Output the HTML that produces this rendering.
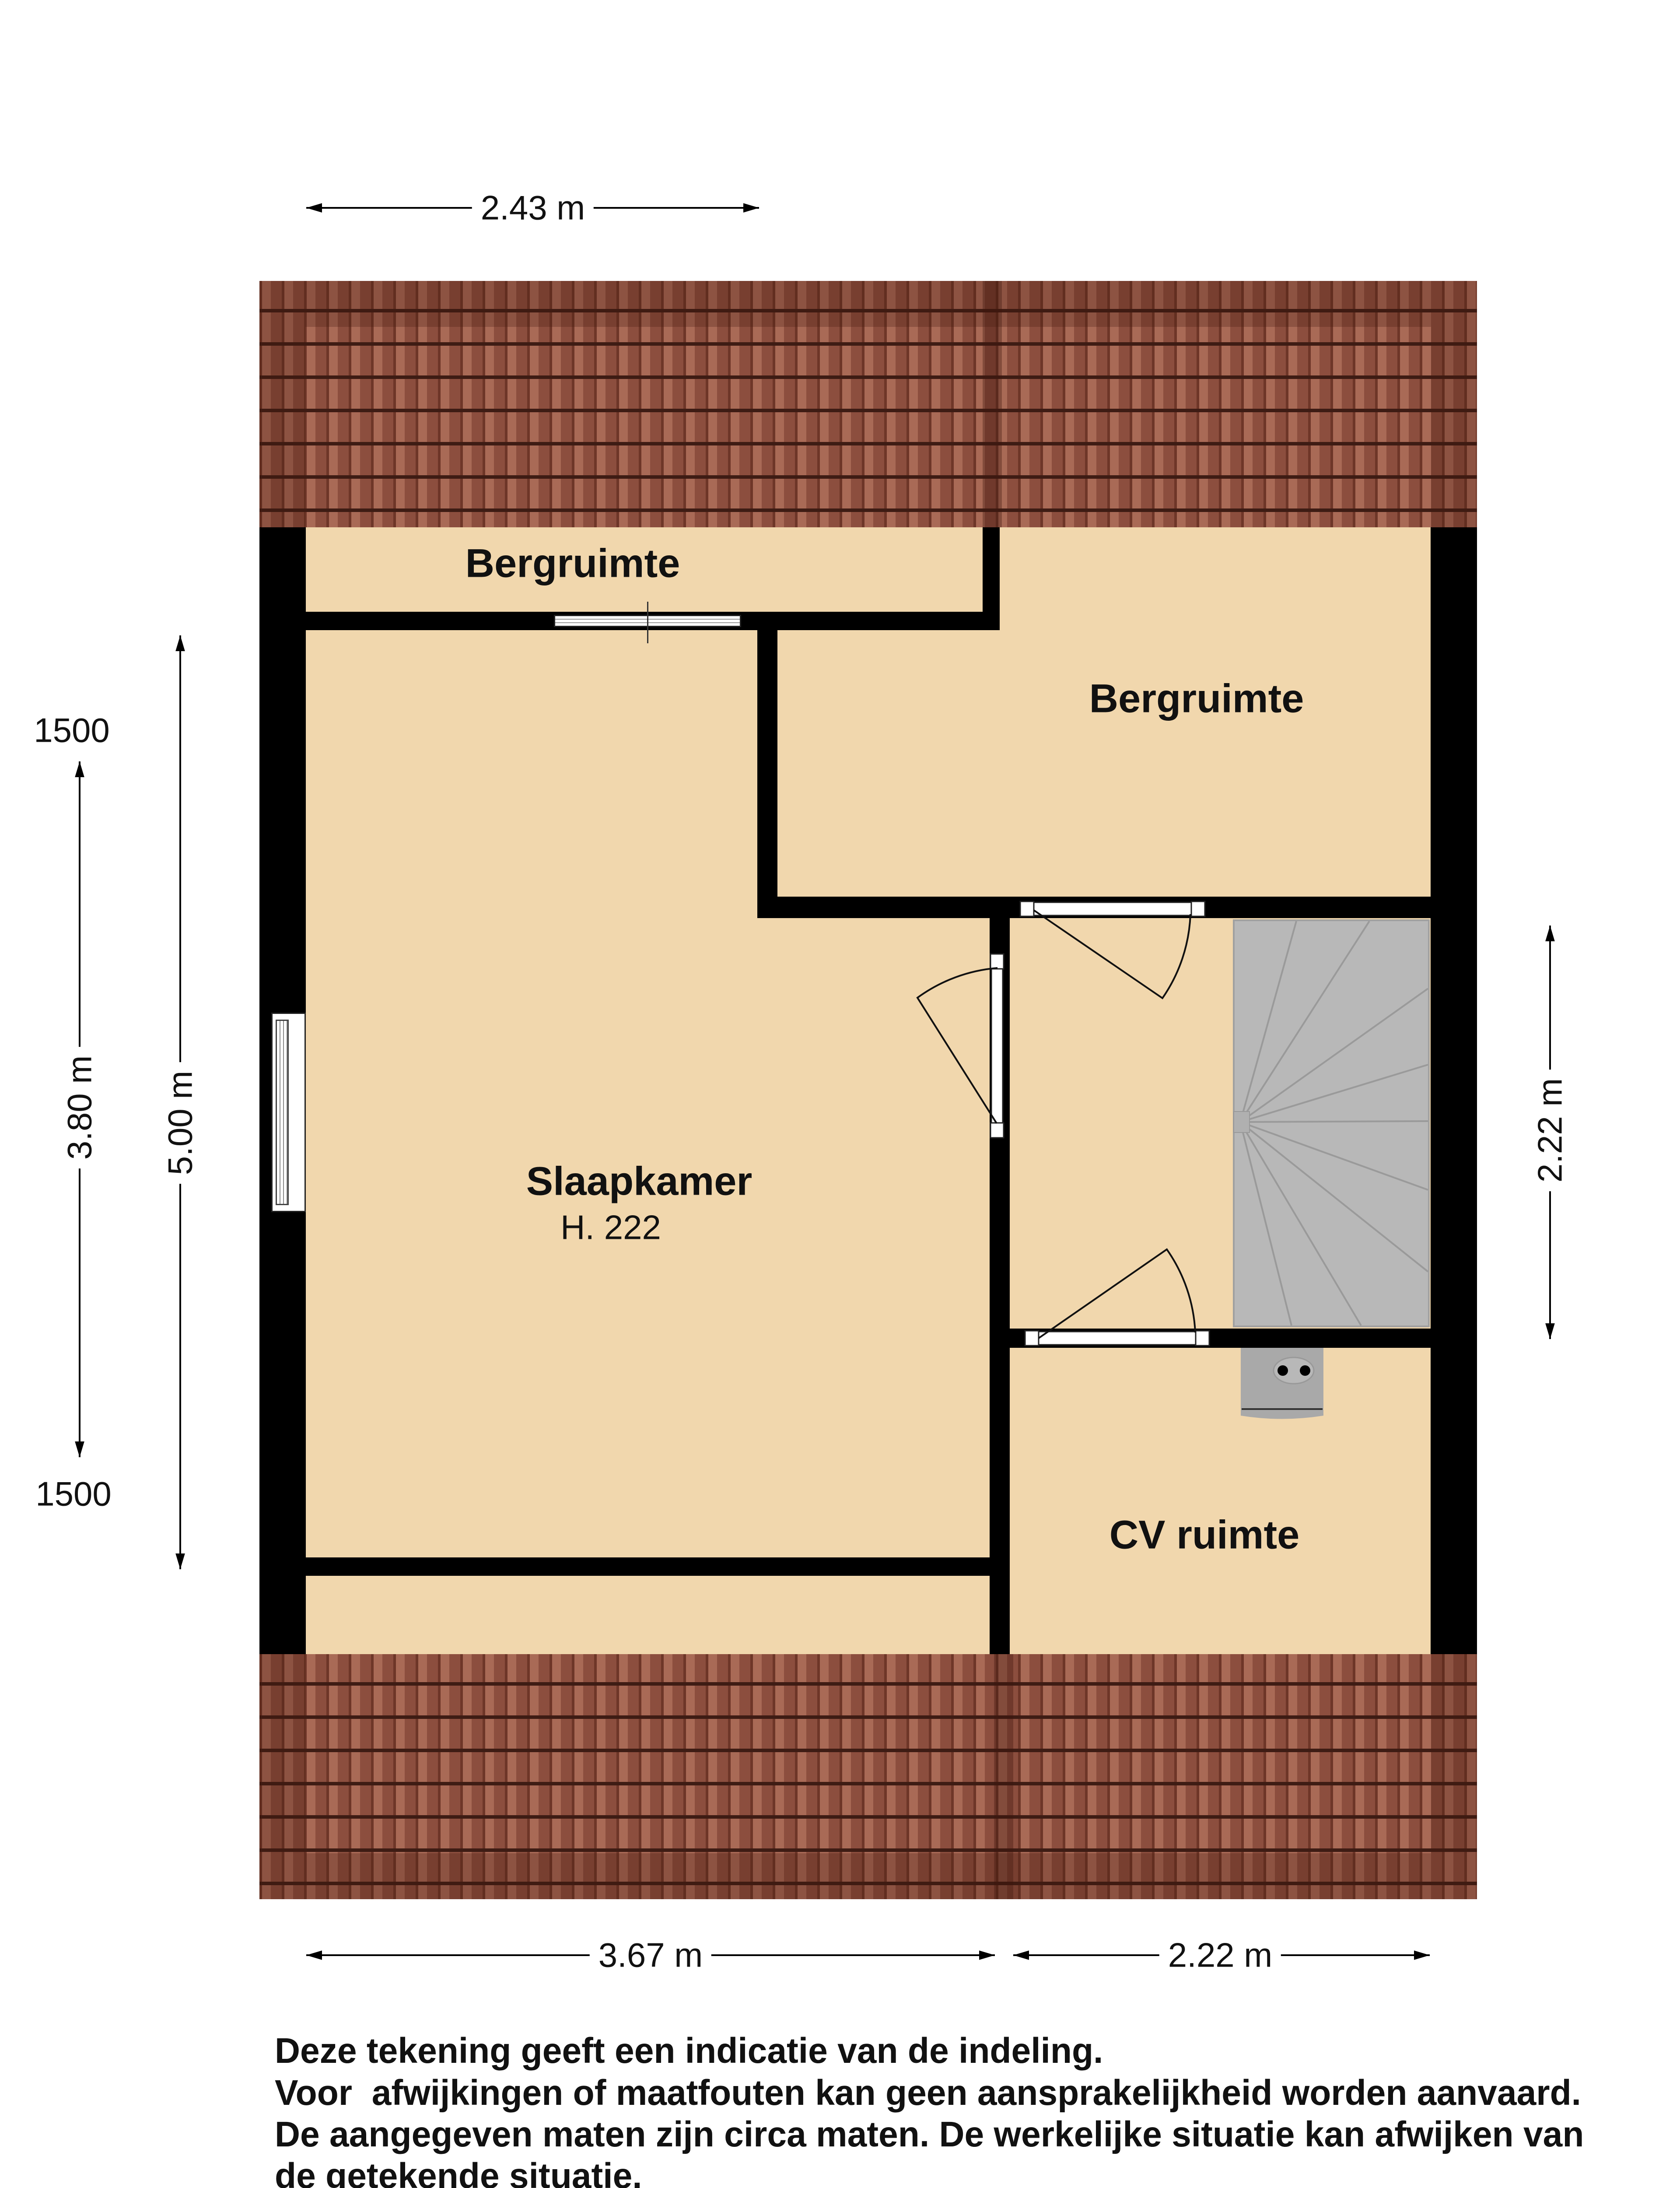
<!DOCTYPE html>
<html><head><meta charset="utf-8"><style>
*{margin:0;padding:0;box-sizing:border-box}
body{width:3840px;height:5431px;background:#fff;position:relative;overflow:hidden;font-family:"Liberation Sans",Arial,sans-serif;color:#111}
.a{position:absolute}
.roof{position:absolute;background-color:#9a5c4a;
background-image:repeating-linear-gradient(180deg,transparent 0 64px,#3e1c14 64px 72px,transparent 72px 76px),
repeating-linear-gradient(90deg,#6e3628 0 6px,#a96a56 6px 26px,#8c4e3e 26px 51px);}
.frame{position:absolute;border:105px solid rgba(70,25,15,0.28)}
.w{position:absolute;background:#000}
.fl{position:absolute;background:#f1d7ad}
.win{position:absolute;background:#fff;border:3px solid #222}
.lbl{position:absolute;font-weight:bold;font-size:92px;white-space:nowrap;transform:translate(-50%,-50%)}
.dim{position:absolute;font-size:78px;white-space:nowrap;background:#fff;padding:0 20px;transform:translate(-50%,-50%)}
.note{position:absolute;left:628px;font-weight:bold;font-size:82px;white-space:nowrap;transform:scaleX(0.98);transform-origin:left}
</style></head><body>

<!-- roofs -->
<div class="roof" style="left:593px;top:642px;width:2783px;height:563px"></div>
<div class="frame" style="left:593px;top:642px;width:2783px;height:563px;border-bottom:0"></div>
<div class="a" style="left:2246px;top:642px;width:44px;height:563px;background:rgba(60,20,12,0.35)"></div>
<div class="roof" style="left:593px;top:3780px;width:2783px;height:560px"></div>
<div class="frame" style="left:593px;top:3780px;width:2783px;height:560px;border-top:0"></div>
<div class="a" style="left:2272px;top:3780px;width:44px;height:560px;background:rgba(60,20,12,0.35)"></div>

<!-- floor -->
<div class="fl" style="left:699px;top:1205px;width:2571px;height:2575px"></div>

<!-- walls -->
<div class="w" style="left:593px;top:1205px;width:106px;height:2575px"></div>
<div class="w" style="left:3270px;top:1205px;width:106px;height:2575px"></div>
<div class="w" style="left:699px;top:1398px;width:1586px;height:42px"></div>
<div class="w" style="left:2246px;top:1205px;width:39px;height:235px"></div>
<div class="w" style="left:1731px;top:1440px;width:46px;height:658px"></div>
<div class="w" style="left:1731px;top:2049px;width:1539px;height:49px"></div>
<div class="w" style="left:2262px;top:2075px;width:46px;height:1705px"></div>
<div class="w" style="left:2308px;top:3036px;width:962px;height:44px"></div>
<div class="w" style="left:699px;top:3559px;width:1563px;height:42px"></div>

<!-- windows -->
<div class="win" style="left:1266px;top:1405px;width:428px;height:28px;background:repeating-linear-gradient(180deg,#fff 0 6px,#999 6px 8px)"></div>
<div class="a" style="left:1479px;top:1375px;width:3px;height:95px;background:#333"></div>
<div class="win" style="left:620px;top:2314px;width:79px;height:456px;background:#fff"></div>
<div class="a" style="left:630px;top:2330px;width:30px;height:424px;border:3px solid #444;background:repeating-linear-gradient(90deg,#fff 0 6px,#888 6px 8px)"></div>

<!-- doors, stairs, boiler -->
<svg class="a" style="left:0;top:0" width="3840" height="3800">
 <g fill="#fff" stroke="#222" stroke-width="3">
  <rect x="2348" y="2062" width="390" height="30"/>
  <rect x="2332" y="2060" width="31" height="34"/><rect x="2723" y="2060" width="31" height="34"/>
  <rect x="2266" y="2187" width="26" height="407"/>
  <rect x="2264" y="2180" width="30" height="34"/><rect x="2264" y="2566" width="30" height="34"/>
  <rect x="2360" y="3043" width="390" height="30"/>
  <rect x="2343" y="3041" width="31" height="34"/><rect x="2733" y="3041" width="31" height="34"/>
 </g>
 <g fill="none" stroke="#111" stroke-width="4">
  <path d="M2363 2080 L2657 2281 A360 360 0 0 0 2721 2089"/>
  <path d="M2278 2567 L2097 2280 A360 360 0 0 1 2280 2212"/>
  <path d="M2374 3058 L2667 2855 A360 360 0 0 1 2732 3045"/>
 </g>
 <rect x="2820" y="2103" width="446" height="928" fill="#b8b8b8" stroke="#a0a0a0" stroke-width="4"/>
 <g stroke="#9a9a9a" stroke-width="4">
  <path d="M2835 2564 L2963 2105 M2835 2564 L3130 2105 M2835 2564 L3264 2259 M2835 2564 L3264 2433 M2835 2564 L3264 2562 M2835 2564 L3264 2719 M2835 2564 L3264 2906 M2835 2564 L3111 3029 M2835 2564 L2952 3029"/>
 </g>
 <rect x="2820" y="2540" width="36" height="48" fill="#b0b0b0" stroke="#999" stroke-width="2"/>
 <path d="M2836 3080 H3025 V3235 Q2930 3250 2836 3235 Z" fill="#a9a9a9"/>
 <line x1="2838" y1="3220" x2="3023" y2="3220" stroke="#333" stroke-width="4"/>
 <ellipse cx="2957" cy="3132" rx="46" ry="30" fill="#b8b8b8" stroke="#999" stroke-width="3"/>
 <circle cx="2932" cy="3132" r="12" fill="#000"/><circle cx="2983" cy="3132" r="12" fill="#000"/>
</svg>

<!-- labels -->
<div class="lbl" style="left:1309px;top:1288px">Bergruimte</div>
<div class="lbl" style="left:2735px;top:1597px">Bergruimte</div>
<div class="lbl" style="left:1461px;top:2700px">Slaapkamer</div>
<div class="a" style="left:1396px;top:2805px;transform:translate(-50%,-50%);font-size:78px">H. 222</div>
<div class="lbl" style="left:2753px;top:3508px">CV ruimte</div>

<!-- dimension lines -->
<svg class="a" style="left:0;top:0" width="3840" height="4600">
 <defs><marker id="ar" viewBox="0 0 10 10" refX="10" refY="5" markerWidth="9" markerHeight="9" orient="auto-start-reverse"><path d="M0 2 L10 5 L0 8 Z" fill="#000"/></marker></defs>
 <g stroke="#000" stroke-width="4" marker-start="url(#ar)" marker-end="url(#ar)">
  <line x1="700" y1="475" x2="1735" y2="475"/>
  <line x1="182" y1="1740" x2="182" y2="3330"/>
  <line x1="412" y1="1452" x2="412" y2="3586"/>
  <line x1="3543" y1="2115" x2="3543" y2="3060"/>
  <line x1="700" y1="4468" x2="2274" y2="4468"/>
  <line x1="2316" y1="4468" x2="3268" y2="4468"/>
 </g>
</svg>
<div class="dim" style="left:1218px;top:475px">2.43 m</div>
<div class="dim" style="left:1487px;top:4468px">3.67 m</div>
<div class="dim" style="left:2789px;top:4468px">2.22 m</div>
<div class="dim" style="left:182px;top:2531px;transform:translate(-50%,-50%) rotate(-90deg)">3.80 m</div>
<div class="dim" style="left:412px;top:2566px;transform:translate(-50%,-50%) rotate(-90deg)">5.00 m</div>
<div class="dim" style="left:3543px;top:2583px;transform:translate(-50%,-50%) rotate(-90deg)">2.22 m</div>
<div class="a" style="left:164px;top:1669px;transform:translate(-50%,-50%);font-size:78px">1500</div>
<div class="a" style="left:168px;top:3414px;transform:translate(-50%,-50%);font-size:78px">1500</div>

<!-- notes -->
<div class="note" style="top:4640px">Deze tekening geeft een indicatie van de indeling.</div>
<div class="note" style="top:4736px">Voor&nbsp; afwijkingen of maatfouten kan geen aansprakelijkheid worden aanvaard.</div>
<div class="note" style="top:4831px">De aangegeven maten zijn circa maten. De werkelijke situatie kan afwijken van</div>
<div class="note" style="top:4926px">de getekende situatie.</div>
</body></html>
